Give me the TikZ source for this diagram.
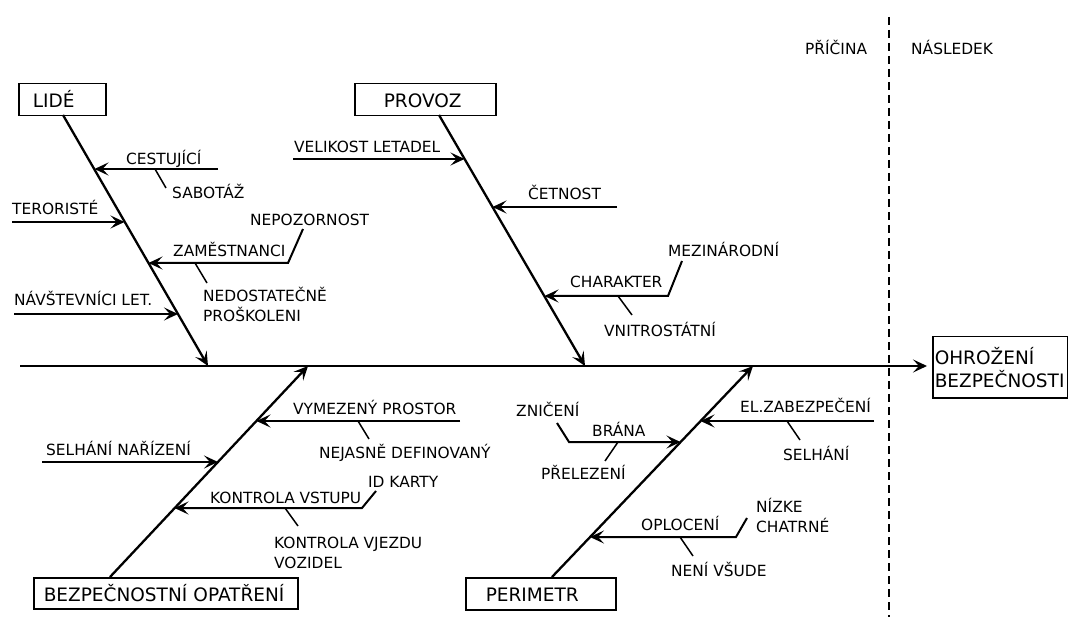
\documentclass[tikz,border=0pt]{standalone}
\usepackage{fontspec}
\setmainfont{DejaVu Sans}
\usetikzlibrary{arrows.meta}
\tikzset{
  barb/.tip={Stealth[length=14pt,width=13pt,inset=6pt]},
  lbl/.style={anchor=base west, inner sep=0pt, font=\fontsize{15.4}{20}\selectfont, align=left},
  cat/.style={draw, line width=1.5pt, anchor=north west, font=\fontsize{18.5}{23}\selectfont,
              align=left, text height=16pt, text depth=0pt, inner ysep=0pt},
  bone/.style={line width=2.3pt, -barb},
  branch/.style={line width=2pt, -barb},
  twig/.style={line width=1.5pt},
  divider/.style={line width=2.5pt, dash pattern=on 8pt off 5pt},
}
\begin{document}
\begin{tikzpicture}[x=1pt,y=-1pt]
\useasboundingbox (0,0) rectangle (1068,617);

% category boxes
\node[cat, minimum width=87pt, minimum height=32pt, inner xsep=14pt, text width=59pt] (lide) at (18,83) {LIDÉ};
\node[cat, minimum width=141pt, minimum height=32pt, inner xsep=29pt, text width=83pt] (provoz) at (354,83) {PROVOZ};
\node[cat, minimum width=264pt, minimum height=31pt, inner xsep=10pt, text width=244pt] (bezp) at (33,577) {BEZPEČNOSTNÍ OPATŘENÍ};
\node[cat, minimum width=150pt, minimum height=32pt, inner xsep=20pt, text width=110pt] (perim) at (465,577) {PERIMETR};
\node[draw, line width=1.5pt, anchor=north west, font=\fontsize{18.5}{23}\selectfont, align=left,
      minimum width=135pt, minimum height=61pt, inner xsep=2pt, text width=131pt] (effect) at (932,336) {OHROŽENÍ\\BEZPEČNOSTI};

% cause / effect headings and divider
\node[lbl] (priciny) at (805,55) {PŘÍČINA};
\node[lbl] (nasledek) at (911,55) {NÁSLEDEK};
\coordinate (d0) at (889,17);
\coordinate (d1) at (889,617);
\draw[divider] (d0) -- (d1);

% spine
\coordinate (s0) at (20,366);
\coordinate (s1) at (927,366);
\draw[bone] (s0) -- (s1);

% main bones
\coordinate (l0) at (63,115);   \coordinate (l1) at (208,366);
\coordinate (p0) at (439,115);  \coordinate (p1) at (585,366);
\coordinate (b0) at (110,577);  \coordinate (b1) at (308,366);
\coordinate (r0) at (552,577);  \coordinate (r1) at (753,366);
\draw[bone] (l0) -- (l1);
\draw[bone] (p0) -- (p1);
\draw[bone] (b0) -- (b1);
\draw[bone] (r0) -- (r1);

% ---- LIDÉ ----
\node[lbl] (cest) at (126,165) {CESTUJÍCÍ};
\node[lbl] (sabot) at (172,199) {SABOTÁŽ};
\node[lbl] (teror) at (12,215) {TERORISTÉ};
\node[lbl] (nepoz) at (250,226) {NEPOZORNOST};
\node[lbl] (zam) at (173,257) {ZAMĚSTNANCI};
\node[lbl] (navst) at (14,306) {NÁVŠTEVNÍCI LET.};
\node[lbl] (nedost) at (203,322) {NEDOSTATEČNĚ\\PROŠKOLENI};

\coordinate (c1a) at (218,169); \coordinate (c1b) at (94.5,169);
\draw[branch] (c1a) -- (c1b);
\coordinate (c1s) at (155,169); \coordinate (c1t) at (166,188);
\draw[twig] (c1s) -- (c1t);
\coordinate (c2a) at (12,222); \coordinate (c2b) at (124.5,222);
\draw[branch] (c2a) -- (c2b);
\coordinate (c3u) at (303,229); \coordinate (c3a) at (288,263); \coordinate (c3b) at (148.5,263);
\draw[branch] (c3u) -- (c3a) -- (c3b);
\coordinate (c3s) at (195,263); \coordinate (c3t) at (207,283);
\draw[twig] (c3s) -- (c3t);
\coordinate (c4a) at (14,314); \coordinate (c4b) at (178,314);
\draw[branch] (c4a) -- (c4b);

% ---- PROVOZ ----
\node[lbl] (velik) at (294,153) {VELIKOST LETADEL};
\node[lbl] (cetn) at (528,200) {ČETNOST};
\node[lbl] (mezin) at (668,257) {MEZINÁRODNÍ};
\node[lbl] (charak) at (570,288) {CHARAKTER};
\node[lbl] (vnitro) at (604,337) {VNITROSTÁTNÍ};

\coordinate (o1a) at (293,159); \coordinate (o1b) at (464.5,159);
\draw[branch] (o1a) -- (o1b);
\coordinate (o2a) at (617,207); \coordinate (o2b) at (492.5,207);
\draw[branch] (o2a) -- (o2b);
\coordinate (o3u) at (682,261); \coordinate (o3a) at (668,296); \coordinate (o3b) at (544.5,296);
\draw[branch] (o3u) -- (o3a) -- (o3b);
\coordinate (o3s) at (618,296); \coordinate (o3t) at (632,315);
\draw[twig] (o3s) -- (o3t);

% ---- BEZPEČNOSTNÍ OPATŘENÍ ----
\node[lbl] (vymez) at (293,414) {VYMEZENÝ PROSTOR};
\node[lbl] (nejas) at (319,458) {NEJASNĚ DEFINOVANÝ};
\node[lbl] (selnar) at (46,455) {SELHÁNÍ NAŘÍZENÍ};
\node[lbl] (idk) at (368,487) {ID KARTY};
\node[lbl] (kontr) at (210,503) {KONTROLA VSTUPU};
\node[lbl] (vjezd) at (274,568) {KONTROLA VJEZDU\\VOZIDEL};

\coordinate (e1a) at (460,421); \coordinate (e1b) at (256.5,421);
\draw[branch] (e1a) -- (e1b);
\coordinate (e1s) at (358,421); \coordinate (e1t) at (369,439);
\draw[twig] (e1s) -- (e1t);
\coordinate (e2a) at (42,462); \coordinate (e2b) at (218,462);
\draw[branch] (e2a) -- (e2b);
\coordinate (e3u) at (376,491); \coordinate (e3a) at (362,508); \coordinate (e3b) at (174.5,508);
\draw[branch] (e3u) -- (e3a) -- (e3b);
\coordinate (e3s) at (285,508); \coordinate (e3t) at (298,526);
\draw[twig] (e3s) -- (e3t);

% ---- PERIMETR ----
\node[lbl] (elzab) at (740,413) {EL.ZABEZPEČENÍ};
\node[lbl] (selh) at (783,460) {SELHÁNÍ};
\node[lbl] (znic) at (516,417) {ZNIČENÍ};
\node[lbl] (brana) at (592,436) {BRÁNA};
\node[lbl] (prel) at (541,479) {PŘELEZENÍ};
\node[lbl] (oploc) at (641,530) {OPLOCENÍ};
\node[lbl] (nizke) at (756,532) {NÍZKE\\CHATRNÉ};
\node[lbl] (nenivs) at (671,576) {NENÍ VŠUDE};

\coordinate (m1a) at (874,421); \coordinate (m1b) at (700.5,421);
\draw[branch] (m1a) -- (m1b);
\coordinate (m1s) at (787,421); \coordinate (m1t) at (800,440);
\draw[twig] (m1s) -- (m1t);
\coordinate (m2u) at (557,423); \coordinate (m2a) at (569,442); \coordinate (m2b) at (680.5,442);
\draw[branch] (m2u) -- (m2a) -- (m2b);
\coordinate (m2s) at (618,442); \coordinate (m2t) at (605,461);
\draw[twig] (m2s) -- (m2t);
\coordinate (m3u) at (747,518); \coordinate (m3a) at (736,537); \coordinate (m3b) at (590,537);
\draw[branch] (m3u) -- (m3a) -- (m3b);
\coordinate (m3s) at (680,537); \coordinate (m3t) at (693,556);
\draw[twig] (m3s) -- (m3t);
\end{tikzpicture}
\end{document}
